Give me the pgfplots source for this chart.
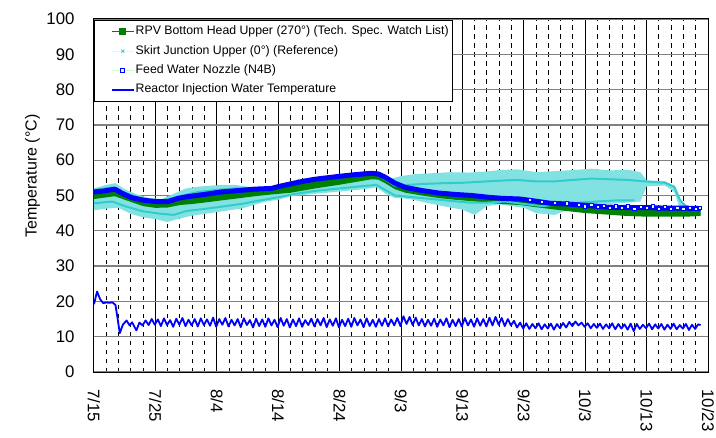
\documentclass[border=0pt]{standalone}
\usepackage{fontspec}
\setmainfont{Liberation Sans}
\usepackage{pgfplots}
\pgfplotsset{compat=1.18}
\definecolor{rgreen}{RGB}{0,128,0}
\definecolor{cyanm}{RGB}{51,204,204}
\definecolor{cyanl}{RGB}{130,226,226}
\definecolor{cyanvl}{RGB}{204,255,255}
\definecolor{greenvl}{RGB}{204,255,204}
\definecolor{gridgray}{RGB}{128,128,128}
\begin{document}
\begin{tikzpicture}
\useasboundingbox (-94bp,-66bp) rectangle (622bp,372bp);
\begin{axis}[
  at={(0,0)}, anchor=south west,
  scale only axis, width=614bp, height=353bp,
  xmin=0, xmax=100, ymin=0, ymax=100,
  xtick={0,10,...,100},
  xticklabels={7/15,7/25,8/4,8/14,8/24,9/3,9/13,9/23,10/3,10/13,10/23},
  minor x tick num=4,
  ytick={0,10,...,100},
  major tick length=0pt, minor tick length=0pt,
  xmajorgrids, xminorgrids, ymajorgrids,
  major x grid style={black, line width=1bp},
  minor x grid style={black, line width=1bp, dash pattern=on 4.5bp off 4.5bp},
  major y grid style={gridgray, line width=1.3bp},
  axis line style={black, line width=1bp},
  tick label style={font=\fontsize{16.8bp}{19bp}\selectfont},
  /pgf/number format/assume math mode=true,
  xticklabel style={rotate=-90, anchor=west},
  xticklabel shift=14bp,
  yticklabel shift=16bp,
  ylabel={Temperature (°C)},
  every axis y label/.style={at={(axis description cs:-0.100,0.555)}, rotate=90, anchor=center, font=\fontsize{16bp}{19bp}\selectfont},
  legend style={at={(axis description cs:0,1)}, anchor=north west, yshift=-1bp, draw=black, line width=0.8bp, fill=white,
    font=\fontsize{12.3bp}{14bp}\selectfont, row sep=5.3bp, inner ysep=4.5bp, inner xsep=2.5bp,
    nodes={inner xsep=1bp, inner ysep=1bp, text height=9bp, text depth=3bp}},
  legend cell align=left,
]
% Skirt junction band
\addplot[fill=cyanl, draw=none, forget plot] coordinates {
(0,52.0)(2,53.0)(3.5,53.5)(5,51.8)(7,50.3)(9,49.3)(11,49.0)(13,50.5)(15,52.0)(17,52.5)(19,52.8)(21,53.0)(23,53.0)(25,52.5)(27,52.3)(29,52.5)(31,53.5)(33,54.5)(36,55.2)(39,55.8)(42,56.4)(45,56.8)(47,56.0)(48.5,54.8)(50,55.5)(52,56.0)(55,56.3)(58,56.6)(61,56.5)(64,56.8)(66,57.2)(69,57.4)(72,56.6)(75,56.9)(78,57.2)(81,57.6)(84,57.1)(87,57.3)(89,56.6)(90,54.3)(93,54.1)(94.5,52.5)(95.5,48.0)(97,47.0)(98.8,47.0)
(98.8,44.4)(97,44.6)(95.5,45.8)(94.5,51.0)(93,52.8)(90,52.6)(89,48.3)(87,48.0)(84,47.6)(81,47.2)(78,46.5)(75,44.5)(72,45.0)(70,46.5)(66,47.5)(64,47.0)(62,44.5)(60,46.0)(58,46.6)(56,47.3)(54,48.0)(52,48.8)(50,49.3)(49,49.3)(47.5,50.5)(46,52.3)(44,51.8)(41,51.3)(38,50.8)(35,50.3)(32,49.8)(30,48.8)(28,48.3)(26,47.3)(24,46.3)(22,45.8)(20,45.3)(18,44.8)(16,44.3)(14,43.5)(12,42.5)(10,43.3)(8,43.8)(6,44.8)(4,46.5)(2,46.3)(0,45.8)
};
% RPV bottom head band
\addplot[fill=rgreen, draw=none, forget plot] coordinates {
(0,51.0)(1.7,51.3)(3.4,51.8)(4.5,50.7)(6.1,49.4)(8.3,48.6)(9.9,48.3)(12.1,48.3)(13.7,49.2)(15.3,49.7)(18.0,50.3)(20.7,51.0)(23.5,51.4)(26.2,51.8)(28.9,52.0)(30.2,52.6)(32.1,53.3)(34,54.0)(36,54.6)(39.8,55.4)(42.5,55.9)(45.2,56.3)(46.3,56.1)(47.4,55.2)(49.0,53.5)(50.7,52.3)(53.4,51.4)(56.1,50.7)(58.8,50.3)(61.5,50.0)(64.2,49.5)(66.4,49.2)(69.4,49.0)(71.5,48.5)(74.3,47.8)(77.0,47.6)(80.2,47.2)(83.5,46.7)(86.8,46.6)(90.0,46.6)(93.3,46.4)(96.5,46.4)(98.8,46.3)
(98.8,44.2)(96.5,44.0)(93.3,44.0)(90.0,44.0)(86.8,44.2)(83.5,44.6)(80.2,45.0)(77.0,45.6)(74.3,46.2)(71.5,46.8)(69.4,47.3)(66.4,47.6)(64.2,48.0)(61.5,48.4)(58.8,48.8)(56.1,49.3)(53.4,50.0)(50.7,50.8)(49.0,51.8)(47.4,53.5)(46.3,54.5)(45.2,54.6)(42.5,53.8)(39.8,53.0)(36,52.0)(32.1,50.8)(28.9,50.3)(26.2,49.8)(23.5,49.2)(20.7,48.6)(18,48.0)(16,47.6)(14,47.3)(12,46.6)(10,46.5)(8,47.0)(5,48.8)(3.4,49.8)(0,49.0)
};
% Skirt junction traces
\addplot[cyanm, line width=2bp, line join=round, forget plot] coordinates {
(0,51.6)(3,52.3)(5,50.8)(8,49.0)(11,48.6)(14,49.8)(17,51.0)(20,51.6)(23,52.0)(26,52.0)(29,52.4)(32,53.6)(36,54.7)(40,55.4)(44,55.9)(46,56.1)(47.5,54.5)(49,52.8)(51,53.0)(54,53.3)(57,53.5)(60,53.6)(63,53.9)(66,54.2)(69,54.4)(72,54.0)(75,54.0)(78,54.4)(81,54.8)(84,54.6)(87,54.4)(89,54.1)(91,53.8)(93,53.6)(94.5,52.5)(95.5,48.5)(96.5,46.8)(98.8,46.2)
};
\addplot[cyanm, line width=2bp, line join=round, forget plot] coordinates {
(0,47.8)(3,48.3)(5,47.0)(8,45.5)(11,44.8)(13,44.5)(15,45.6)(18,46.2)(21,46.9)(24,47.6)(27,48.6)(30,49.5)(33,50.5)(36,51.3)(40,52.0)(44,52.7)(46,53.0)(47.5,51.5)(49,50.0)(52,49.5)(55,49.0)(58,48.5)(61,48.0)(64,48.0)(67,48.3)(70,47.6)(73,47.0)(76,47.5)(79,48.0)(82,48.3)(85,48.6)(88,48.6)
};
% Feed water nozzle
\addplot[blue, line width=5bp, line join=round, forget plot] coordinates {
(0,51.0)(1.7,51.3)(3.4,51.8)(4.5,50.7)(6.1,49.4)(8.3,48.6)(9.9,48.3)(12.1,48.3)(13.7,49.2)(15.3,49.7)(18.0,50.3)(20.7,51.0)(23.5,51.4)(26.2,51.8)(28.9,52.0)(30.2,52.6)(32.1,53.3)(34,54.0)(36,54.6)(39.8,55.4)(42.5,55.9)(45.2,56.3)(46.3,56.1)(47.4,55.2)(49.0,53.5)(50.7,52.3)(53.4,51.4)(56.1,50.7)(58.8,50.3)(61.5,50.0)(64.2,49.5)(66.4,49.2)(69.4,49.0)(71.5,48.5)(74.3,47.8)(77.0,47.6)(80.2,47.2)(83.5,46.7)(86.8,46.6)(90.0,46.6)(93.3,46.4)(96.5,46.4)(98.8,46.3)
};
\addplot[only marks, mark=square*, mark size=1.6bp, mark options={draw=blue, fill=cyanvl, line width=0.7bp}, forget plot] coordinates {
(71,48.8)(73,48.1)(75,47.9)(77,47.8)(79,47.3)(80,46.9)(81,47.4)(82,46.8)(83,47.0)(84,46.5)(85,46.9)(86,46.4)(87,46.9)(88,46.3)(89,46.8)(90,46.5)(91,46.9)(92,46.2)(93,46.7)(94,46.2)(95,46.6)(96,46.3)(97,46.6)(98,46.2)(98.7,46.5)
};
% Reactor injection water temperature
\addplot[blue, line width=1.8bp, line join=round, forget plot] coordinates {
(0,19.2)(0.5,22.8)(1.0,20.6)(1.5,19.5)(2.0,19.7)(2.5,19.6)(3.0,19.7)(3.5,19.0)(3.9,14.5)(4.2,11.0)(4.7,13.4)(5.3,14.6)(5.8,13.2)(6.2,14.1)(6.9,11.8)(7.4,14.0)(7.9,13.2)(8.4,14.6)(8.9,13.3)(9.4,15.0)(9.9,13.4)
(10.4,14.9)(10.9,13.0)(11.4,15.2)(11.9,13.3)(12.4,14.7)(12.9,12.8)(13.4,15.1)(13.9,13.4)(14.4,15.3)(14.9,13.0)(15.4,14.8)(15.9,13.2)(16.4,15.0)(16.9,12.9)(17.4,15.2)(17.9,13.3)(18.4,14.9)(18.9,13.1)(19.4,15.4)(19.9,12.8)(20.4,15.0)(20.9,13.4)(21.4,15.3)(21.9,12.9)(22.4,14.8)(22.9,13.2)(23.4,15.0)(23.9,12.7)(24.4,15.2)(24.9,13.3)(25.4,14.7)(25.9,12.6)(26.4,15.1)(26.9,13.0)(27.4,14.9)(27.9,12.8)(28.4,15.2)(28.9,13.2)(29.4,14.8)(29.9,12.7)(30.4,15.3)(30.9,13.1)(31.4,15.0)(31.9,12.6)(32.4,14.9)(32.9,13.0)(33.4,15.2)(33.9,12.8)(34.4,14.7)(34.9,13.3)(35.4,15.1)(35.9,12.9)(36.4,15.0)(36.9,13.2)(37.4,15.3)(37.9,12.7)(38.4,14.9)(38.9,13.1)(39.4,15.2)(39.9,12.6)(40.4,14.8)(40.9,13.0)(41.4,15.1)(41.9,12.8)(42.4,15.3)(42.9,13.2)(43.4,14.9)(43.9,12.7)(44.4,15.2)(44.9,13.0)(45.4,14.8)(45.9,12.8)(46.4,15.0)(46.9,13.1)(47.4,15.2)(47.9,12.9)(48.4,14.9)(48.9,13.2)(49.4,15.3)(49.9,13.0)
(50.4,15.8)(50.9,13.6)(51.4,15.6)(51.9,13.3)(52.4,15.4)(52.9,13.2)(53.4,15.0)(53.9,12.9)(54.4,14.8)(54.9,13.1)(55.4,15.1)(55.9,12.8)(56.4,14.9)(56.9,13.2)(57.4,15.2)(57.9,12.7)(58.4,14.8)(58.9,13.0)(59.4,15.0)(59.9,12.9)(60.4,15.3)(60.9,13.2)(61.4,14.9)(61.9,12.8)(62.4,15.2)(62.9,13.1)(63.4,15.0)(63.9,12.9)(64.4,15.4)(64.9,13.2)(65.4,15.6)(65.9,13.4)(66.4,15.3)(66.9,13.0)(67.4,15.0)(67.9,13.2)(68.4,14.5)(68.9,12.6)(69.4,14.0)(69.9,12.3)(70.4,13.8)(70.9,12.2)(71.4,13.6)(71.9,12.4)(72.4,13.8)(72.9,12.1)(73.4,13.5)(73.9,12.3)(74.4,13.7)(74.9,12.0)(75.4,13.6)(75.9,12.4)(76.4,13.9)(76.9,12.6)(77.4,14.2)(77.9,13.0)(78.4,14.3)(78.9,13.2)(79.4,14.0)(79.9,12.8)
(80.4,13.8)(80.9,12.4)(81.4,13.6)(81.9,12.5)(82.4,13.7)(82.9,12.2)(83.4,13.5)(83.9,12.4)(84.4,13.8)(84.9,12.1)(85.4,13.6)(85.9,12.3)(86.4,13.5)(86.9,12.0)(87.4,13.7)(87.9,11.6)(88.4,13.6)(88.9,12.2)(89.4,13.4)(89.9,12.4)(90.4,13.7)(90.9,12.1)(91.4,13.5)(91.9,12.3)(92.4,13.6)(92.9,12.0)(93.4,13.4)(93.9,12.2)(94.4,13.7)(94.9,12.1)(95.4,13.3)(95.9,12.3)(96.4,13.6)(96.9,11.9)(97.4,13.4)(97.9,12.2)(98.4,13.5)(98.8,13.3)
};
% Legend
\addlegendimage{legend image code/.code={\path (-14.5bp,0); \draw[rgreen,line width=1.2bp] (0,0)--(22bp,0); \fill[rgreen] (8bp,-3bp) rectangle (14bp,3bp);}}
\addlegendentry{RPV Bottom Head Upper (270°) (Tech. Spec. Watch List)}
\addlegendimage{legend image code/.code={\path (-14.5bp,0); \draw[cyanvl,line width=1.2bp] (0,0)--(22bp,0); \draw[cyanm,line width=0.8bp] (9.5bp,-1.5bp)--(12.5bp,1.5bp) (9.5bp,1.5bp)--(12.5bp,-1.5bp);}}
\addlegendentry{Skirt Junction Upper (0°) (Reference)}
\addlegendimage{legend image code/.code={\path (-14.5bp,0); \draw[greenvl,line width=1.2bp] (0,0)--(22bp,0); \draw[blue,line width=0.8bp,fill=cyanvl] (9bp,-2bp) rectangle (13bp,2bp);}}
\addlegendentry{Feed Water Nozzle (N4B)}
\addlegendimage{legend image code/.code={\path (-14.5bp,0); \draw[blue,line width=1.8bp] (0,0)--(22bp,0);}}
\addlegendentry{Reactor Injection Water Temperature}
\end{axis}
\end{tikzpicture}
\end{document}
